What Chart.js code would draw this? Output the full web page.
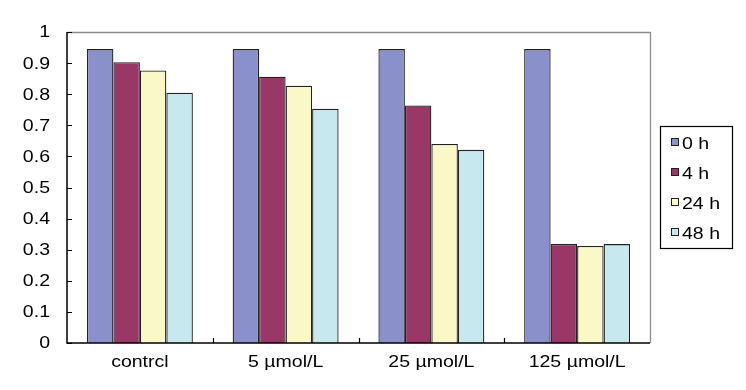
<!DOCTYPE html>
<html>
<head>
<meta charset="utf-8">
<script src="https://cdn.jsdelivr.net/npm/chart.js@4/dist/chart.umd.min.js"></script>
<style>
  html, body { margin: 0; padding: 0; background: #fff; }
  canvas { display: block; }
</style>
</head>
<body>
<canvas id="myChart" width="746" height="390"></canvas>
<script>
'use strict';

// カテゴリ（濃度）
const groups = ['contrcl', '5 µmol/L', '25 µmol/L', '125 µmol/L'];
// 時間ごとの値
const h0 = [0.945, 0.945, 0.945, 0.945];
const h4 = [0.903, 0.856, 0.764, 0.318];
const h24 = [0.876, 0.827, 0.640, 0.312];
const h48 = [0.805, 0.753, 0.621, 0.318];
const seriesNames = ['0 h', '4 h', '24 h', '48 h'];
const seriesColors = ['#8a90c9', '#993767', '#fbf8c8', '#c8e8ef'];
const yTicks = [0, 0.1, 0.2, 0.3, 0.4, 0.5, 0.6, 0.7, 0.8, 0.9, 1];

const FONT = '"Liberation Sans", Arial, sans-serif';
const SX = 1.22; // 元画像は文字が横に伸びている

const makeSet = (i, vals) => ({
  label: seriesNames[i],
  data: vals,
  backgroundColor: seriesColors[i],
  borderColor: '#222',
  borderWidth: 1.3,
  borderSkipped: 'bottom',
  barPercentage: 1,
  categoryPercentage: 0.727
});

// 横に伸ばした文字を書く
function wideText(ctx, txt, x, y, align) {
  ctx.save();
  ctx.scale(SX, 1);
  ctx.textAlign = align;
  ctx.fillText(txt, x / SX, y);
  ctx.restore();
}

// 枠・内向きの目盛り・ラベル・凡例を描くプラグイン
const extras = {
  id: 'extras',
  afterDraw(chart) {
    const ctx = chart.ctx;
    const a = chart.chartArea;
    const xs = chart.scales.x;
    const ys = chart.scales.y;
    ctx.save();
    // 上と右の灰色の枠
    ctx.strokeStyle = '#8c8c8c';
    ctx.lineWidth = 1.3;
    ctx.beginPath();
    ctx.moveTo(a.left, a.top + 0.5);
    ctx.lineTo(a.right + 0.5, a.top + 0.5);
    ctx.lineTo(a.right + 0.5, a.bottom);
    ctx.stroke();
    // 左と下の軸
    ctx.strokeStyle = '#000';
    ctx.lineWidth = 1.5;
    ctx.beginPath();
    ctx.moveTo(a.left, a.top);
    ctx.lineTo(a.left, a.bottom);
    ctx.lineTo(a.right, a.bottom);
    ctx.stroke();
    // y の目盛り（内側）
    ctx.lineWidth = 1.2;
    ctx.beginPath();
    for (const v of yTicks) {
      const y = Math.round(ys.getPixelForValue(v)) + 0.5;
      ctx.moveTo(a.left, y);
      ctx.lineTo(a.left + 5, y);
    }
    // x の目盛り（カテゴリの境目）
    for (let i = 1; i < groups.length; i++) {
      const x = Math.round((xs.getPixelForValue(i - 1) + xs.getPixelForValue(i)) / 2) + 0.5;
      ctx.moveTo(x, a.bottom);
      ctx.lineTo(x, a.bottom - 5);
    }
    ctx.stroke();

    // 目盛りラベル
    ctx.fillStyle = '#000';
    ctx.font = '16px ' + FONT;
    ctx.textBaseline = 'middle';
    for (const v of yTicks) {
      wideText(ctx, String(v), 50, ys.getPixelForValue(v) + 1, 'right');
    }
    groups.forEach((g, i) => {
      wideText(ctx, g, xs.getPixelForValue(i), 363, 'center');
    });

    // 凡例
    const lx = 660.5, ly = 126.5, lw = 72, lh = 122;
    ctx.strokeStyle = '#000';
    ctx.lineWidth = 1.2;
    ctx.strokeRect(lx, ly, lw, lh);
    chart.data.datasets.forEach((ds, i) => {
      const cy = 145 + i * 30;
      ctx.fillStyle = ds.backgroundColor;
      ctx.fillRect(671, cy - 7, 8, 8);
      ctx.strokeStyle = '#222';
      ctx.lineWidth = 1;
      ctx.strokeRect(671.5, cy - 6.5, 7, 7);
      ctx.fillStyle = '#000';
      wideText(ctx, ds.label, 682, cy, 'left');
    });
    ctx.restore();
  }
};

new Chart(document.getElementById('myChart'), {
  type: 'bar',
  data: {
    labels: groups,
    datasets: [makeSet(0, h0), makeSet(1, h4), makeSet(2, h24), makeSet(3, h48)]
  },
  options: {
    responsive: false,
    animation: false,
    devicePixelRatio: 1,
    layout: { padding: { top: 32, right: 96, left: 0, bottom: 0 } },
    plugins: {
      legend: { display: false },
      tooltip: { enabled: false }
    },
    scales: {
      x: {
        grid: { display: false },
        border: { display: false },
        ticks: { display: false },
        afterFit(scale) { scale.height = 47; }
      },
      y: {
        min: 0,
        max: 1,
        grid: { display: false },
        border: { display: false },
        ticks: { display: false, stepSize: 0.1 },
        afterFit(scale) { scale.width = 67; }
      }
    }
  },
  plugins: [extras]
});
</script>
</body>
</html>
